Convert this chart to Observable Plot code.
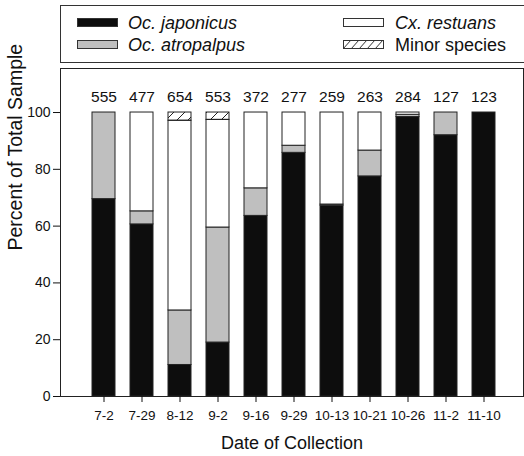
<!DOCTYPE html>
<html><head><meta charset="utf-8">
<script src="https://cdn.jsdelivr.net/npm/d3@7"></script>
<script src="https://cdn.jsdelivr.net/npm/@observablehq/plot@0.6"></script>
<style>
body{margin:0;background:#fff;font-family:"Liberation Sans",Arial,sans-serif;color:#111;}
#wrap{position:relative;width:524px;height:456px;overflow:hidden;}
#chart{position:absolute;left:0;top:0;}
#legend{position:absolute;left:60px;top:5px;width:480px;height:58px;border:1px solid #333;box-sizing:border-box;background:#fff;}
.sw{position:absolute;width:41px;height:9px;box-sizing:border-box;border:1px solid #333;}
.lt{position:absolute;font-size:18px;line-height:20px;white-space:nowrap;}
.it{font-style:italic;}
</style>
</head><body>
<div id="wrap">
  <div id="chart"></div>
  <div id="legend"></div>
  <div class="sw" style="left:77px;top:18px;background:#0d0d0d;"></div>
  <div class="lt it" style="left:128px;top:13px;">Oc. japonicus</div>
  <div class="sw" style="left:77px;top:40px;background:#bfbfbf;"></div>
  <div class="lt it" style="left:128px;top:35px;">Oc. atropalpus</div>
  <div class="sw" style="left:343px;top:18px;background:#fff;"></div>
  <div class="lt it" style="left:395px;top:13px;">Cx. restuans</div>
  <svg class="sw" style="left:343px;top:40px;border:none;overflow:visible" width="41" height="9">
    <defs><pattern id="hatchL" patternUnits="userSpaceOnUse" width="8" height="9"><path d="M0,9 L8,0" stroke="#333" stroke-width="1"/></pattern></defs>
    <rect x="0.5" y="0.5" width="40" height="8" fill="url(#hatchL)" stroke="#333"/>
  </svg>
  <div class="lt" style="left:395px;top:35px;">Minor species</div>
</div>
<script>
const dates = ["7-2","7-29","8-12","9-2","9-16","9-29","10-13","10-21","10-26","11-2","11-10"];
const totals = [555,477,654,553,372,277,259,263,284,127,123];
const species = ["Oc. japonicus","Oc. atropalpus","Cx. restuans","Minor species"];
const japonicus  = [69.5,60.6,11.1,19.0,63.6,85.8,67.2,77.5,98.4,92.0,100];
const atropalpus = [30.5, 4.6,19.2,40.5, 9.7, 2.5, 0.4, 9.1, 0.8, 8.0,0];
const restuans   = [ 0.0,34.8,66.8,37.9,26.7,11.7,32.4,13.4, 0.8, 0.0,0];
const minor      = [ 0.0, 0.0, 2.9, 2.6, 0.0, 0.0, 0.0, 0.0, 0.0, 0.0,0];
const speciesColors = ["#0d0d0d","#bfbfbf","#ffffff","url(#hatch)"];

const series = [japonicus, atropalpus, restuans, minor];
const rows = [];
species.forEach((s, k) => dates.forEach((d, i) => {
  if (series[k][i] > 0) rows.push({date: d, species: s, value: series[k][i]});
}));
const totalRows = dates.map((d, i) => ({date: d, n: totals[i]}));

const chart = Plot.plot({
  width: 524, height: 456,
  marginLeft: 60, marginRight: 1, marginTop: 68, marginBottom: 60,
  style: {fontFamily: "Liberation Sans, Arial, sans-serif", color: "#111", background: "#fff"},
  x: {domain: dates, range: [60, 527], paddingInner: 0.4, paddingOuter: 0.7},
  y: {domain: [0, 115.5]},
  color: {domain: species, range: speciesColors},
  marks: [
    Plot.barY(rows, {x: "date", y: "value", fill: "species", stroke: "#222", strokeWidth: 1}),
    Plot.text(totalRows, {x: "date", y: () => 105.4, text: "n", fontSize: 15.5, fill: "#111"}),
    Plot.frame({stroke: "#222"}),
    Plot.axisY({ticks: [0,20,40,60,80,100], tickSize: 7, tickPadding: 3, fontSize: 14, label: null}),
    Plot.axisX({tickSize: 6, tickPadding: 8, fontSize: 13.5, label: null}),
    Plot.text(["Percent of Total Sample"], {frameAnchor: "left", rotate: -90, dx: -45, dy: 18, fontSize: 19.5, fill: "#111"}),
    Plot.text(["Date of Collection"], {frameAnchor: "bottom", dy: 52, fontSize: 18, fill: "#111"})
  ]
});
d3.select(chart).insert("defs", ":first-child").html(
  '<pattern id="hatch" patternUnits="userSpaceOnUse" width="11" height="11"><path d="M0,11 L11,0 M-2,2 L2,-2 M9,13 L13,9" stroke="#222" stroke-width="1"/></pattern>'
);
document.getElementById("chart").appendChild(chart);
</script>
</body></html>
